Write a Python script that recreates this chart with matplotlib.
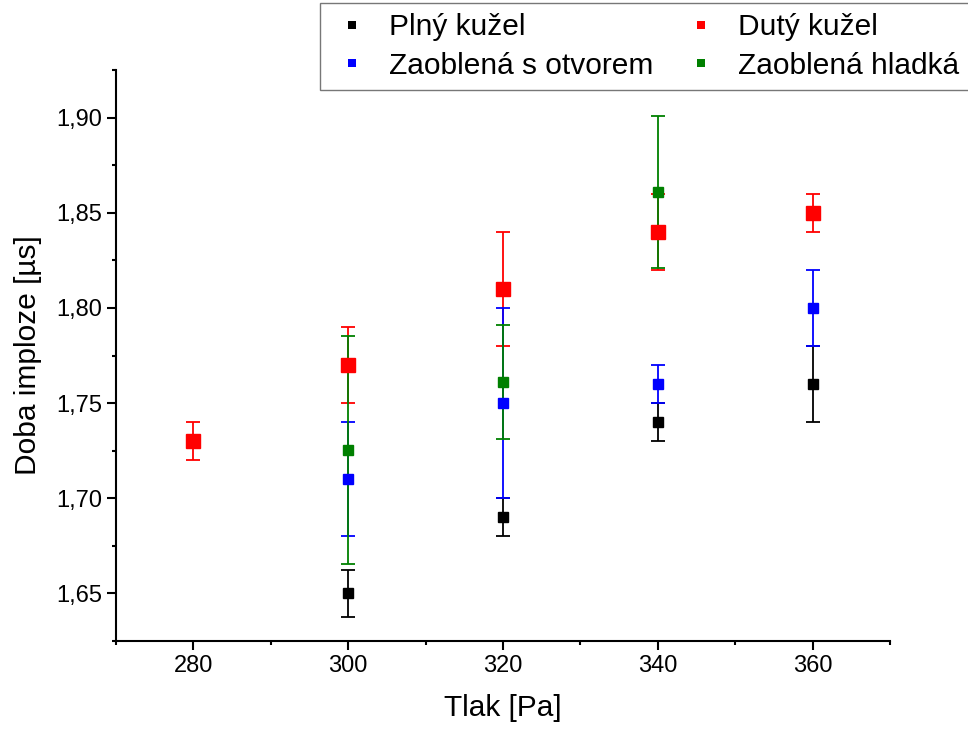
import matplotlib
matplotlib.use('Agg')
import matplotlib.pyplot as plt
from matplotlib.lines import Line2D
from matplotlib.ticker import MultipleLocator, FuncFormatter

plt.rcParams['font.family'] = ['Liberation Sans', 'DejaVu Sans']

# data
labels = ['Plný kužel', 'Dutý kužel', 'Zaoblená s otvorem', 'Zaoblená hladká']
colors = ['#000000', '#ff0000', '#0000ff', '#008000']

plny_x = [300, 320, 340, 360]
plny_y = [1.65, 1.69, 1.74, 1.76]
plny_err = [0.0125, 0.01, 0.01, 0.02]

duty_x = [280, 300, 320, 340, 360]
duty_y = [1.73, 1.77, 1.81, 1.84, 1.85]
duty_err = [0.01, 0.02, 0.03, 0.02, 0.01]

otvor_x = [300, 320, 340, 360]
otvor_y = [1.71, 1.75, 1.76, 1.80]
otvor_err = [0.03, 0.05, 0.01, 0.02]

hladka_x = [300, 320, 340]
hladka_y = [1.7255, 1.761, 1.861]
hladka_err = [0.06, 0.03, 0.04]

series = [
    (plny_x, plny_y, plny_err, 7.6),
    (duty_x, duty_y, duty_err, 9.4),
    (otvor_x, otvor_y, otvor_err, 7.6),
    (hladka_x, hladka_y, hladka_err, 7.6),
]

fig = plt.figure(figsize=(9.68, 7.34), dpi=100)
ax = fig.add_axes([0.1198, 0.1267, 0.7996, 0.7779])

for (x, y, e, ms), c in zip(series, colors):
    ax.errorbar(x, y, yerr=e, fmt='s', color=c, ms=ms, mec=c,
                elinewidth=1.3, capsize=5, capthick=1.3)

ax.set_xlim(270, 370)
ax.set_ylim(1.625, 1.925)
ax.xaxis.set_major_locator(MultipleLocator(20))
ax.xaxis.set_minor_locator(MultipleLocator(10))
ax.yaxis.set_major_locator(MultipleLocator(0.05))
ax.yaxis.set_minor_locator(MultipleLocator(0.025))
ax.yaxis.set_major_formatter(FuncFormatter(lambda v, p: '{:.2f}'.format(v).replace('.', ',')))

for s in ['top', 'right']:
    ax.spines[s].set_visible(False)
for s in ['left', 'bottom']:
    ax.spines[s].set_linewidth(1.5)

ax.tick_params(which='major', length=6.5, width=1.5, labelsize=17, direction='out')
ax.tick_params(which='minor', length=3.2, width=1.5, direction='out')

ax.set_xlabel('Tlak [Pa]', fontsize=21.5, labelpad=12)
ax.set_ylabel('Doba imploze [µs]', fontsize=21.5, labelpad=10)

# legend fills column-wise, so reorder to get rows like the reference
order = [0, 2, 1, 3]
handles = [Line2D([], [], ls='none', marker='s', color=colors[i], ms=6, mew=0) for i in order]
leg = fig.legend(handles, [labels[i] for i in order], loc='upper right',
                 bbox_to_anchor=(1.002, 0.996), borderaxespad=0, ncol=2,
                 fontsize=21.5, frameon=True, fancybox=False, edgecolor='#555555',
                 handlelength=1.4, handletextpad=0.55, columnspacing=0.9,
                 borderpad=0.35, labelspacing=0.35)
leg.get_frame().set_linewidth(1.0)

fig.savefig('out.png', dpi=100)
